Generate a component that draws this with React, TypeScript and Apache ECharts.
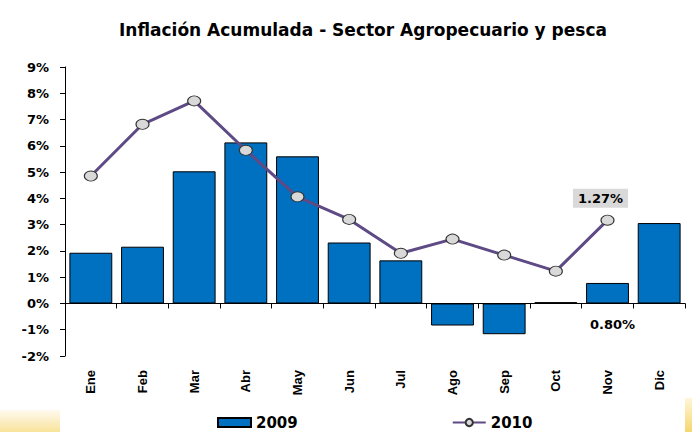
import React, { useEffect, useRef } from "react";
import * as echarts from "echarts";

const categories = ["Ene", "Feb", "Mar", "Abr", "May", "Jun", "Jul", "Ago", "Sep", "Oct", "Nov", "Dic"];
const values2009 = [1.93, 2.16, 5.03, 6.13, 5.6, 2.32, 1.64, -0.84, -1.17, 0.05, 0.78, 3.06];
const values2010 = [4.85, 6.82, 7.71, 5.83, 4.06, 3.2, 1.91, 2.45, 1.84, 1.23, 3.17, null];
const yTicks = { min: -2, max: 9, interval: 1 };
const label2010 = "1.27%";
const label2009 = "0.80%";
const labelIndex = 10;

const WIDE = "'DejaVu Sans', Verdana, sans-serif";
const NARROW = "'Liberation Sans', Arial, sans-serif";

export default function App() {
  const ref = useRef<HTMLDivElement>(null);
  useEffect(() => {
    if (!ref.current) return;
    const chart = echarts.init(ref.current, null, { renderer: "svg" });
    const barData = values2009.map((v, i) =>
      i === labelIndex
        ? {
            value: v,
            label: {
              show: true,
              position: "bottom",
              distance: 12,
              offset: [5, 0],
              formatter: label2009,
              color: "#000",
              fontWeight: "bold",
              fontSize: 13,
              fontFamily: WIDE,
              backgroundColor: "#fff",
              padding: [3, 4],
            },
          }
        : v
    );
    const lineData = values2010.map((v, i) =>
      i === labelIndex
        ? {
            value: v,
            label: {
              show: true,
              position: "top",
              distance: 5,
              offset: [-7, -2],
              formatter: label2010,
              color: "#000",
              fontWeight: "bold",
              fontSize: 13,
              fontFamily: WIDE,
              backgroundColor: "#d9d9d9",
              padding: [3, 5],
            },
          }
        : v
    );
    chart.setOption({
      animation: false,
      backgroundColor: "#fff",
      textStyle: { fontFamily: WIDE },
      title: {
        text: "Inflación Acumulada - Sector Agropecuario y pesca",
        left: 358,
        top: 16,
        textAlign: "center",
        textStyle: { fontSize: 17, fontWeight: "bold", color: "#000", fontFamily: WIDE },
      },
      graphic: [
        {
          type: "rect",
          shape: { x: 0, y: 410, width: 60, height: 22 },
          style: {
            fill: new echarts.graphic.LinearGradient(0, 0, 0, 1, [
              { offset: 0, color: "#fffaf0" },
              { offset: 1, color: "#f9e39a" },
            ]),
          },
          silent: true,
        },
        {
          type: "rect",
          shape: { x: 685, y: 398, width: 7, height: 34 },
          style: {
            fill: new echarts.graphic.LinearGradient(0, 0, 0, 1, [
              { offset: 0, color: "#fff6d8" },
              { offset: 1, color: "#f6d671" },
            ]),
          },
          silent: true,
        },
      ],
      legend: {
        top: 410,
        left: 212,
        itemGap: 154,
        itemWidth: 33,
        itemHeight: 9,
        textStyle: { fontSize: 15, fontWeight: "bold", color: "#000", fontFamily: WIDE },
        data: [
          { name: "2009", icon: "rect" },
          { name: "2010" },
        ],
      },
      grid: { left: 65, right: 7, top: 67, bottom: 76 },
      xAxis: [
        {
          type: "category",
          data: categories,
          boundaryGap: true,
          axisLine: { onZero: true, lineStyle: { color: "#000", width: 1 } },
          axisTick: { show: true, length: 5, lineStyle: { color: "#000" } },
          axisLabel: { show: false },
        },
        {
          type: "category",
          data: categories,
          position: "bottom",
          axisLine: { show: false },
          axisTick: { show: false },
          axisLabel: {
            rotate: 90,
            margin: 14,
            color: "#000",
            fontWeight: "bold",
            fontSize: 13,
            fontFamily: NARROW,
          },
        },
      ],
      yAxis: {
        type: "value",
        min: yTicks.min,
        max: yTicks.max,
        interval: yTicks.interval,
        splitLine: { show: false },
        axisLine: { show: true, lineStyle: { color: "#000", width: 1 } },
        axisTick: { show: true, length: 5, lineStyle: { color: "#000" } },
        axisLabel: {
          formatter: "{value}%",
          margin: 16,
          color: "#000",
          fontWeight: "bold",
          fontSize: 13,
          fontFamily: WIDE,
        },
      },
      series: [
        {
          name: "2009",
          type: "bar",
          data: barData,
          barCategoryGap: "17%",
          itemStyle: { color: "#0070c0", borderColor: "#000", borderWidth: 1 },
        },
        {
          name: "2010",
          type: "line",
          data: lineData,
          symbol: "circle",
          symbolSize: [13, 10],
          lineStyle: { color: "#5e4a85", width: 3 },
          itemStyle: { color: "#d9d9d9", borderColor: "#333", borderWidth: 1 },
          z: 3,
        },
      ],
    });
    return () => chart.dispose();
  }, []);
  return <div ref={ref} style={{ width: 692, height: 432, position: "absolute", left: 0, top: 0 }} />;
}
